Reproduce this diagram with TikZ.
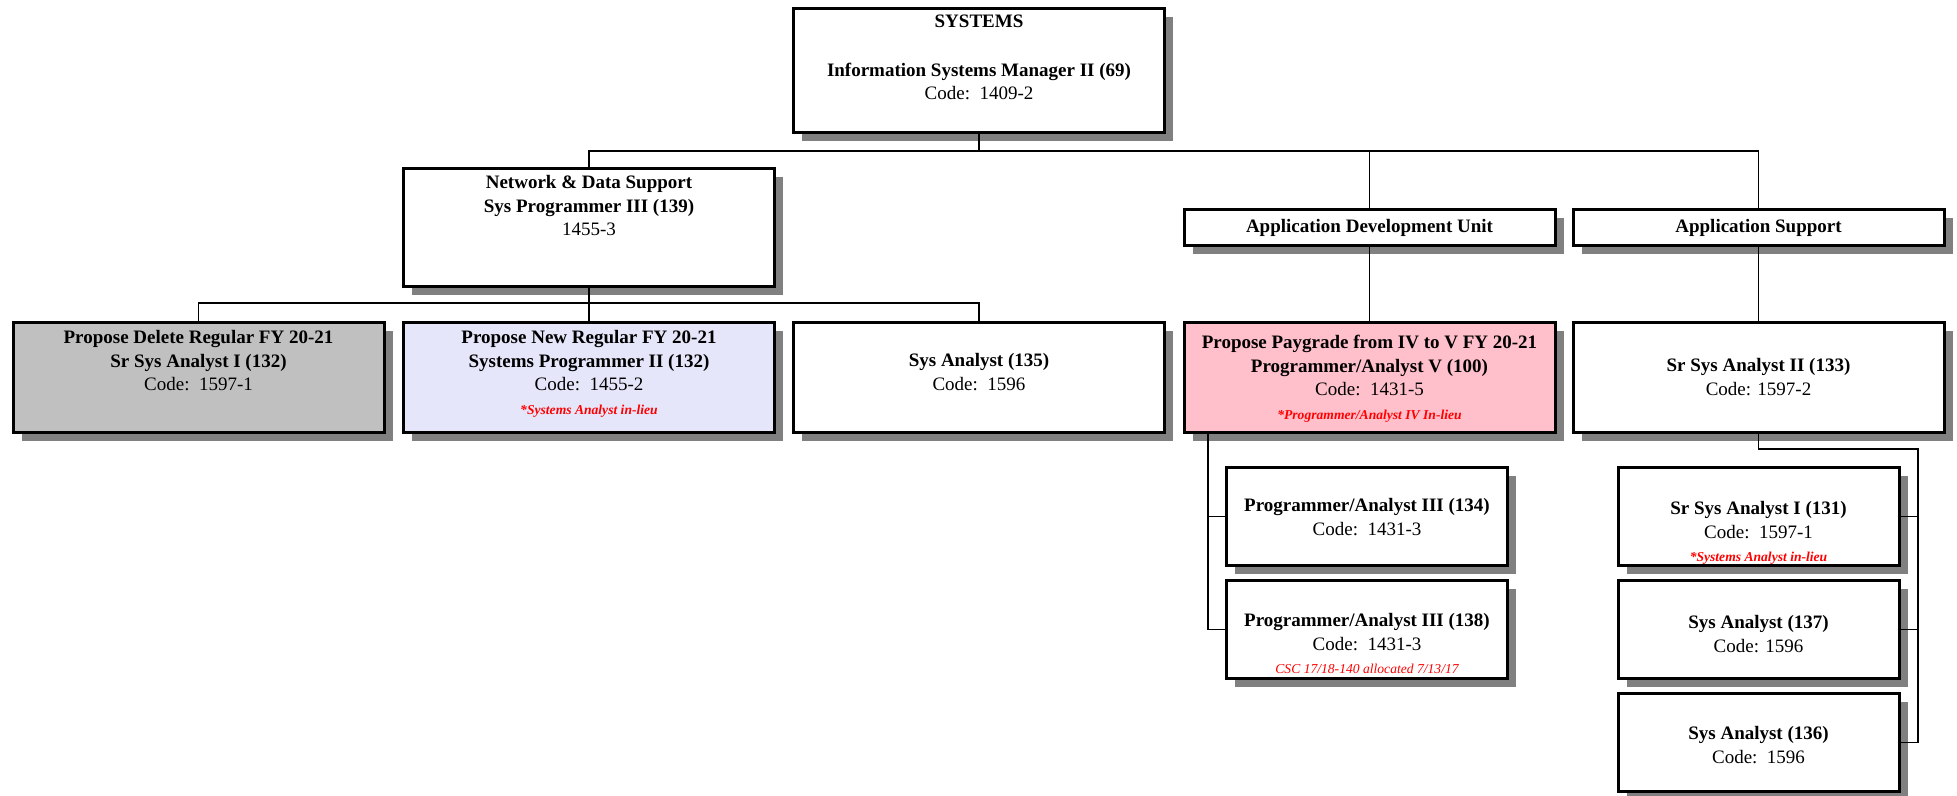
\documentclass[tikz,border=0pt]{standalone}
\usepackage{fontspec}
\setmainfont{Liberation Serif}
\usepackage{xcolor}
\usetikzlibrary{positioning,shadows}

\definecolor{deletegray}{HTML}{C0C0C0}
\definecolor{newlavender}{HTML}{E6E6FA}
\definecolor{paypink}{HTML}{FFC0CB}

\newcommand{\inlieu}[1]{{\fontsize{6.8}{8}\selectfont\bfseries\itshape\color{red}#1}}
\newcommand{\allocnote}[1]{{\fontsize{6.8}{8}\selectfont\itshape\color{red}#1}}

\tikzset{
  box/.style={draw=black,line width=1.5pt,fill=white,inner sep=0pt,
    drop shadow={shadow xshift=4.25pt,shadow yshift=-4.25pt,fill=black!50,opacity=1}},
  wide/.style={minimum width=185.5pt},
  narrow/.style={minimum width=140.5pt,minimum height=49pt},
  txt/.style={anchor=north,align=center,inner sep=0pt,font=\fontsize{9.5}{11.75}\selectfont},
  link/.style={draw=black,line width=0.65pt}
}

\begin{document}
\begin{tikzpicture}[x=0.5pt,y=-0.5pt]
      \useasboundingbox (0,0) rectangle (1957,796);

      % head of the section
      \node [box,wide,minimum height=62pt] (top) at (979,70.5) {};
      \node [txt,below=4pt of top.north] (top-txt) {\textbf{SYSTEMS}\\[12.5pt]
        \textbf{Information Systems Manager II (69)}\\ Code:\ \ 1409-2};

      % second level
      \node [box,wide,minimum height=59pt] (net) at (589,227.5) {};
      \node [txt,below=4pt of net.north] (net-txt) {\textbf{Network \& Data Support}\\
        \textbf{Sys Programmer III (139)}\\ 1455-3};
      \node [box,wide,minimum height=18pt,font=\fontsize{9.5}{11.75}\selectfont\bfseries] (adu) at (1369.5,227.5) {Application Development Unit};
      \node [box,wide,minimum height=18pt,font=\fontsize{9.5}{11.75}\selectfont\bfseries] (aps) at (1758.5,227.5) {Application Support};

      % third level
      \node [box,wide,minimum height=55pt,fill=deletegray] (del) at (198.5,377.5) {};
      \node [txt,below=4.5pt of del.north] (del-txt) {\textbf{Propose Delete Regular FY 20-21}\\
        \textbf{Sr Sys Analyst I (132)}\\ Code:\ \ 1597-1};
      \node [box,wide,minimum height=55pt,fill=newlavender] (newsp) at (589,377.5) {};
      \node [txt,below=4.5pt of newsp.north] (newsp-txt) {\textbf{Propose New Regular FY 20-21}\\
        \textbf{Systems Programmer II (132)}\\ Code:\ \ 1455-2\\ \inlieu{*Systems Analyst in-lieu}};
      \node [box,wide,minimum height=55pt] (sa135) at (979,377.5) {};
      \node [txt,below=16pt of sa135.north] (sa135-txt) {\textbf{Sys Analyst (135)}\\ Code:\ \ 1596};
      \node [box,wide,minimum height=55pt,fill=paypink] (pav) at (1369.5,377.5) {};
      \node [txt,below=7pt of pav.north] (pav-txt) {\textbf{Propose Paygrade from IV to V FY 20-21}\\
        \textbf{Programmer/Analyst V (100)}\\ Code:\ \ 1431-5\\ \inlieu{*Programmer/Analyst IV In-lieu}};
      \node [box,wide,minimum height=55pt] (ssa2) at (1758.5,377.5) {};
      \node [txt,below=18.5pt of ssa2.north] (ssa2-txt) {\textbf{Sr Sys Analyst II (133)}\\ Code: 1597-2};

      % fourth level
      \node [box,narrow] (pa134) at (1367,516.5) {};
      \node [txt,below=16pt of pa134.north] (pa134-txt) {\textbf{Programmer/Analyst III (134)}\\ Code:\ \ 1431-3};
      \node [box,narrow] (pa138) at (1367,629.5) {};
      \node [txt,below=17pt of pa138.north] (pa138-txt) {\textbf{Programmer/Analyst III (138)}\\ Code:\ \ 1431-3\\
        \allocnote{CSC 17/18-140 allocated 7/13/17}};
      \node [box,narrow] (ssa1) at (1758.5,516.5) {};
      \node [txt,below=17.5pt of ssa1.north] (ssa1-txt) {\textbf{Sr Sys Analyst I (131)}\\ Code:\ \ 1597-1\\
        \inlieu{*Systems Analyst in-lieu}};
      \node [box,narrow] (sa137) at (1758.5,629.5) {};
      \node [txt,below=18pt of sa137.north] (sa137-txt) {\textbf{Sys Analyst (137)}\\ Code: 1596};
      \node [box,narrow] (sa136) at (1758.5,742.5) {};
      \node [txt,below=17pt of sa136.north] (sa136-txt) {\textbf{Sys Analyst (136)}\\ Code:\ \ 1596};

      % connecting lines
      \coordinate [below=8.5pt of top.south] (bus1);
      \coordinate [below=7.5pt of net.south] (bus2);
      \coordinate [right=12.75pt of pav.south west] (pavl);
      \coordinate [below=7.5pt of ssa2.south] (bus3);
      \coordinate [right=8.75pt of sa136.east] (rbus);

      \draw [link] (top.south) -- (bus1);
      \draw [link] (net.north) |- (bus1) -| (aps.north);
      \draw [link] (bus1 -| adu.north) -- (adu.north);
      \draw [link] (net.south) -- (bus2);
      \draw [link] (del.north) |- (bus2) -| (sa135.north);
      \draw [link] (bus2) -- (newsp.north);
      \draw [link] (adu.south) -- (pav.north);
      \draw [link] (aps.south) -- (ssa2.north);
      \draw [link] (pavl) |- (pa138.west);
      \draw [link] (pa134.west) -- (pa134.west -| pavl);
      \draw [link] (ssa2.south) -- (bus3) -| (rbus) -- (sa136.east);
      \draw [link] (ssa1.east) -- (ssa1.east -| rbus);
      \draw [link] (sa137.east) -- (sa137.east -| rbus);
\end{tikzpicture}
\end{document}
